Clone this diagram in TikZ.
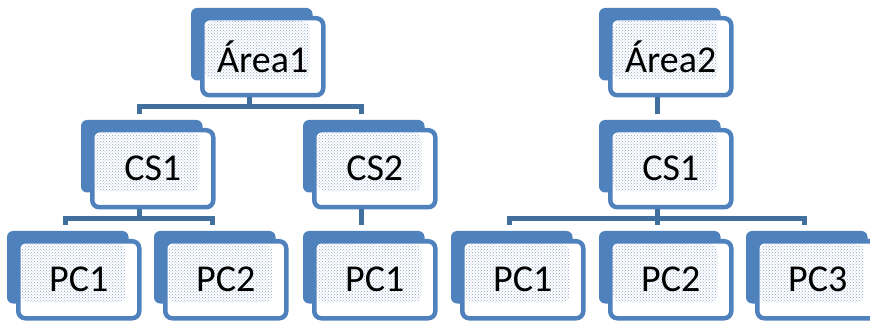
\documentclass[tikz,border=0pt]{standalone}
\usepackage{fontspec}
\setmainfont{Carlito}
\usetikzlibrary{patterns,backgrounds}
\definecolor{boxblue}{HTML}{4F81BD}
\definecolor{linkblue}{HTML}{41709F}
\definecolor{dotblue}{HTML}{8EA7CB}

\begin{document}
\begin{tikzpicture}[x=1pt,y=-1pt,
  card/.style={draw=boxblue, line width=4.5pt, rounded corners=7pt, fill=white,
    minimum width=121pt, minimum height=77pt, inner sep=0pt, anchor=north west,
    font=\fontsize{38}{44}\selectfont,
    path picture={\fill[pattern=crosshatch dots, pattern color=dotblue]
      ([shift={(3pt,-3pt)}]path picture bounding box.north west) rectangle ++(104pt,-58pt);}},
  link/.style={draw=linkblue, line width=5pt}]
	\useasboundingbox (0,0) rectangle (870,323);
	% first tree
	\node[card] (areaA) at (200,16) {Área1};
	\node[card] (csA1) at (90,128) {CS1};
	\node[card] (csA2) at (312,128) {CS2};
	\node[card] (pcA1) at (16,239) {PC1};
	\node[card] (pcA2) at (163,239) {PC2};
	\node[card] (pcA3) at (312,239) {PC1};
	% second tree
	\node[card] (areaB) at (608,16) {Área2};
	\node[card] (csB1) at (608,128) {CS1};
	\node[card] (pcB1) at (460,239) {PC1};
	\node[card] (pcB2) at (608,239) {PC2};
	\node[card] (pcB3) at (755,239) {PC3};
	% shadow cards behind
	\begin{scope}[on background layer]
		\foreach \n in {areaA,csA1,csA2,pcA1,pcA2,pcA3,areaB,csB1,pcB1,pcB2,pcB3}
			\fill[boxblue, rounded corners=6pt] ([shift={(-9pt,8pt)}]\n.north west) rectangle ([shift={(-13pt,17pt)}]\n.south east);
	\end{scope}
	% connectors
	\foreach \p/\c in {areaA/csA1,areaA/csA2,csA1/pcA1,csA1/pcA2,csA2/pcA3,areaB/csB1,csB1/pcB1,csB1/pcB2,csB1/pcB3}
		\draw[link] ([xshift=-13pt]\p.south) -- ++(0,9) -| ([shift={(-13pt,14pt)}]\c.north);
\end{tikzpicture}
\end{document}
